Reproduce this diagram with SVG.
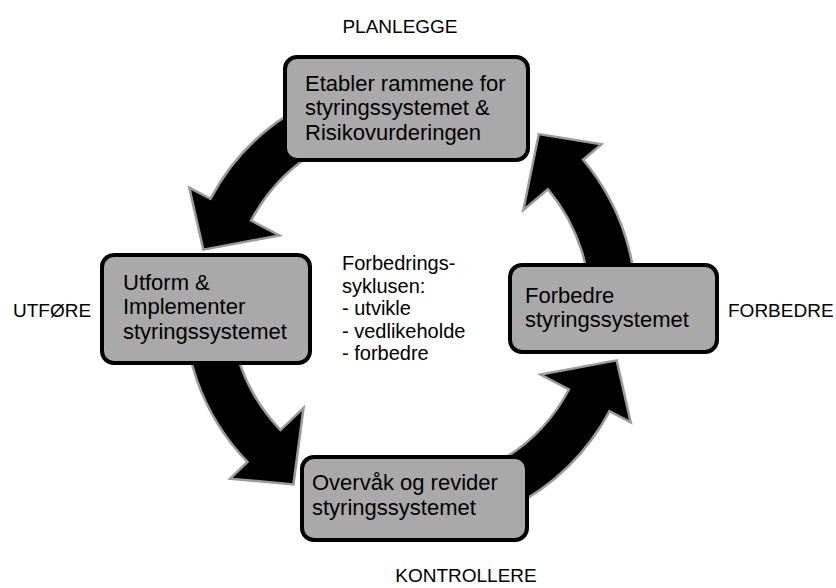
<svg xmlns="http://www.w3.org/2000/svg" width="836" height="588" viewBox="0 0 836 588">
<style>
.arrow{fill:#000;stroke:#9a9a9a;stroke-width:2.5;stroke-linejoin:miter}
.box{fill:#a9a9a9;stroke:#000;stroke-width:4}
.bt{font-family:"Liberation Sans",Arial,sans-serif;font-size:22px;fill:#000}
.ct{font-family:"Liberation Sans",Arial,sans-serif;font-size:20px;fill:#000}
.lb{font-family:"Liberation Sans",Arial,sans-serif;font-size:19px;fill:#000}
</style>
<rect width="836" height="588" fill="#fff"/>
<g id="connectors">
<path class="arrow" d="M429.7,79.86 A226,226 0 0 0 210.45,198.9 L189.26,187.63 L203.29,249.61 L279.32,235.52 L251.07,220.5 A180,180 0 0 1 425.69,125.69 Z"/>
<path class="arrow" d="M184.86,285.3 A226,226 0 0 0 247.43,461.99 L230.16,478.67 L293.45,484.48 L303.54,407.81 L280.52,430.04 A180,180 0 0 1 230.69,289.31 Z"/>
<path class="arrow" d="M370.76,527.57 A226,226 0 0 0 609.55,411.1 L630.74,422.37 L616.71,360.39 L540.68,374.48 L568.93,389.5 A180,180 0 0 1 378.74,482.27 Z"/>
<path class="arrow" d="M635.14,324.7 A226,226 0 0 0 583.13,159.73 L601.51,144.3 L538.79,134.09 L523.37,209.87 L547.89,189.3 A180,180 0 0 1 589.31,320.69 Z"/>
</g>
<g id="plan">
<rect class="box" x="285" y="57" width="243" height="103" rx="12"/>
<text class="bt" x="305" y="91">Etabler rammene for</text>
<text class="bt" x="305" y="115">styringssystemet &amp;</text>
<text class="bt" x="305" y="140">Risikovurderingen</text>
</g>
<g id="utfore">
<rect class="box" x="102" y="255" width="208" height="108" rx="12"/>
<text class="bt" x="123" y="290">Utform &amp;</text>
<text class="bt" x="123" y="314">Implementer</text>
<text class="bt" x="123" y="339">styringssystemet</text>
</g>
<g id="forbedre">
<rect class="box" x="510" y="265" width="207" height="87" rx="12"/>
<text class="bt" x="525" y="303">Forbedre</text>
<text class="bt" x="525" y="327">styringssystemet</text>
</g>
<g id="kontroll">
<rect class="box" x="302" y="457" width="225" height="83" rx="12"/>
<text class="bt" x="312" y="490">Overvåk og revider</text>
<text class="bt" x="312" y="515">styringssystemet</text>
</g>
<g id="center">
<text class="ct" x="342" y="270">Forbedrings-</text>
<text class="ct" x="342" y="292.5">syklusen:</text>
<text class="ct" x="342" y="315">- utvikle</text>
<text class="ct" x="342" y="337.5">- vedlikeholde</text>
<text class="ct" x="342" y="360">- forbedre</text>
</g>
<g id="labels">
<text class="lb" x="400" y="33" text-anchor="middle">PLANLEGGE</text>
<text class="lb" x="13" y="317">UTFØRE</text>
<text class="lb" x="728" y="317">FORBEDRE</text>
<text class="lb" x="466" y="582" text-anchor="middle">KONTROLLERE</text>
</g>
</svg>
